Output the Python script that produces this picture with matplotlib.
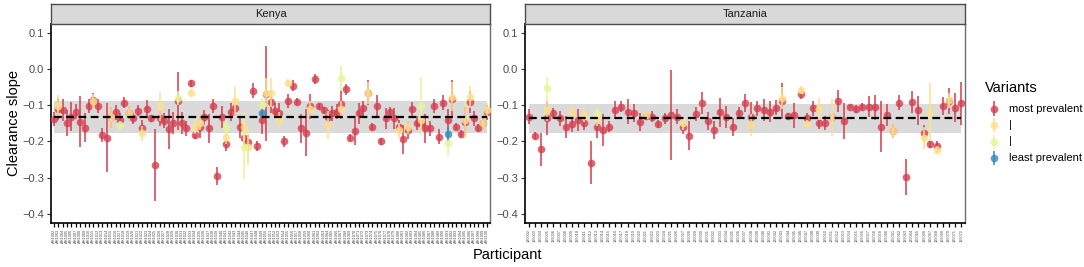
import matplotlib
matplotlib.use("Agg")
import matplotlib.pyplot as plt
import numpy as np

plt.rcParams['font.family'] = ['Liberation Sans', 'DejaVu Sans']

# ---------------- data ----------------
kenya_main = [-0.138, -0.110, -0.114, -0.149, -0.132, -0.118, -0.146, -0.162, -0.103, -0.086,
              -0.103, -0.183, -0.190, -0.134, -0.120, -0.141, -0.093, -0.123, -0.137, -0.116,
              -0.162, -0.112, -0.137, -0.265, -0.137, -0.143, -0.167, -0.149, -0.088, -0.150,
              -0.164, -0.040, -0.183, -0.160, -0.134, -0.164, -0.103, -0.295, -0.132, -0.207,
              -0.120, -0.109, -0.160, -0.192, -0.203, -0.060, -0.213, -0.141, -0.068, -0.091,
              -0.115, -0.123, -0.200, -0.088, -0.047, -0.091, -0.164, -0.176, -0.103, -0.028,
              -0.103, -0.114, -0.134, -0.123, -0.118, -0.098, -0.056, -0.190, -0.171, -0.123,
              -0.109, -0.066, -0.160, -0.103, -0.200, -0.137, -0.120, -0.137, -0.160, -0.194,
              -0.169, -0.112, -0.150, -0.150, -0.164, -0.164, -0.103, -0.187, -0.093, -0.140,
              -0.082, -0.160, -0.180, -0.146, -0.092, -0.137, -0.162, -0.149, -0.120]
kenya_err = [0.02, 0.03, 0.03, 0.035, 0.04, 0.02, 0.07, 0.04, 0.02, 0.02,
             0.02, 0.02, 0.095, 0.03, 0.02, 0.02, 0.015, 0.02, 0.015, 0.015,
             0.02, 0.025, 0.01, 0.10, 0.02, 0.02, 0.055, 0.03, 0.08, 0.03,
             0.02, 0.01, 0.01, 0.03, 0.02, 0.04, 0.02, 0.025, 0.03, 0.02,
             0.025, 0.02, 0.03, 0.02, 0.02, 0.02, 0.015, 0.04, 0.13, 0.03,
             0.02, 0.03, 0.015, 0.02, 0.015, 0.01, 0.04, 0.065, 0.035, 0.015,
             0.01, 0.01, 0.02, 0.02, 0.02, 0.04, 0.015, 0.01, 0.04, 0.03,
             0.02, 0.035, 0.01, 0.03, 0.01, 0.03, 0.015, 0.03, 0.02, 0.04,
             0.025, 0.02, 0.02, 0.02, 0.04, 0.02, 0.02, 0.02, 0.02, 0.03,
             0.05, 0.01, 0.01, 0.04, 0.03, 0.02, 0.01, 0.02, 0.02]

# other variants: participant index (1-based), variant level (2..4), value, half-width
kenya_alt_idx = [2, 10, 14, 16, 18, 21, 25, 29, 32, 33, 34, 40, 40, 42, 44, 44, 45, 48, 48, 49,
                 50, 52, 54, 59, 63, 66, 66, 72, 79, 81, 84, 84, 90, 90, 91, 94, 95, 98, 99]
kenya_alt_lvl = [2, 2, 2, 3, 2, 2, 2, 3, 2, 2, 2, 2, 3, 2, 3, 2, 2, 4, 3, 2,
                 2, 2, 2, 2, 2, 3, 2, 2, 2, 2, 3, 2, 4, 3, 2, 2, 2, 2, 2]
kenya_alt_val = [-0.103, -0.090, -0.134, -0.155, -0.123, -0.178, -0.103, -0.081, -0.066, -0.160,
                 -0.150, -0.187, -0.160, -0.090, -0.215, -0.160, -0.215, -0.121, -0.100, -0.066,
                 -0.066, -0.140, -0.038, -0.110, -0.155, -0.026, -0.110, -0.066, -0.170, -0.160,
                 -0.103, -0.140, -0.180, -0.205, -0.077, -0.140, -0.078, -0.150, -0.114]
kenya_alt_err = [0.03, 0.02, 0.03, 0.01, 0.02, 0.02, 0.04, 0.02, 0.01, 0.02,
                 0.02, 0.02, 0.03, 0.04, 0.09, 0.04, 0.05, 0.01, 0.02, 0.04,
                 0.04, 0.02, 0.01, 0.02, 0.04, 0.035, 0.02, 0.03, 0.02, 0.02,
                 0.08, 0.02, 0.02, 0.035, 0.04, 0.05, 0.03, 0.02, 0.02]

tanz_main = [-0.132, -0.185, -0.222, -0.137, -0.123, -0.137, -0.161, -0.153, -0.141, -0.150,
             -0.259, -0.161, -0.169, -0.160, -0.114, -0.104, -0.118, -0.123, -0.146, -0.131,
             -0.132, -0.152, -0.137, -0.128, -0.132, -0.160, -0.185, -0.125, -0.095, -0.143,
             -0.169, -0.120, -0.132, -0.160, -0.121, -0.095, -0.132, -0.109, -0.114, -0.118,
             -0.107, -0.088, -0.131, -0.128, -0.068, -0.137, -0.109, -0.150, -0.149, -0.134,
             -0.088, -0.144, -0.104, -0.111, -0.104, -0.104, -0.106, -0.160, -0.128, -0.172,
             -0.093, -0.298, -0.092, -0.114, -0.176, -0.208, -0.214, -0.103, -0.089, -0.107,
             -0.095]
tanz_err = [0.02, 0.01, 0.045, 0.045, 0.015, 0.02, 0.03, 0.02, 0.03, 0.02,
            0.06, 0.03, 0.045, 0.015, 0.025, 0.015, 0.035, 0.025, 0.025, 0.01,
            0.015, 0.01, 0.015, 0.125, 0.02, 0.02, 0.04, 0.02, 0.03, 0.025,
            0.025, 0.04, 0.03, 0.025, 0.015, 0.025, 0.04, 0.02, 0.03, 0.03,
            0.02, 0.05, 0.01, 0.035, 0.015, 0.015, 0.02, 0.015, 0.02, 0.01,
            0.03, 0.05, 0.005, 0.01, 0.01, 0.03, 0.035, 0.07, 0.03, 0.02,
            0.02, 0.05, 0.03, 0.04, 0.02, 0.01, 0.015, 0.025, 0.035, 0.04,
            0.06]
tanz_alt_idx = [4, 4, 8, 10, 12, 12, 20, 26, 37, 42, 45, 46, 48, 50, 60, 65, 66, 67, 69]
tanz_alt_lvl = [3, 2, 2, 2, 3, 2, 2, 2, 2, 2, 2, 2, 2, 2, 2, 2, 2, 2, 2]
tanz_alt_val = [-0.053, -0.113, -0.119, -0.128, -0.122, -0.137, -0.128, -0.150, -0.155, -0.081,
                -0.057, -0.152, -0.110, -0.134, -0.172, -0.190, -0.120, -0.223, -0.087]
tanz_alt_err = [0.03, 0.03, 0.02, 0.02, 0.015, 0.02, 0.01, 0.02, 0.03, 0.03,
                0.01, 0.01, 0.03, 0.05, 0.02, 0.03, 0.08, 0.01, 0.02]

kenya_band = (-0.178, -0.089)
kenya_mean = -0.133
tanz_band = (-0.176, -0.097)
tanz_mean = -0.135

kenya_ids = ["AH1%03d" % (i + 2) for i in range(len(kenya_main))]
tanz_ids = ["185%03d" % (i + 2) for i in range(len(tanz_main))]

variant_labels = ["most prevalent", "|", "|", "least prevalent"]
variant_colors = ["#D53E4F", "#FEE08B", "#E6F598", "#3288BD"]

# ---------------- figure ----------------
W, H = 1084, 267
fig = plt.figure(figsize=(W / 100, H / 100), dpi=100)

def fx(px):
    return px / W

def fy(py):
    return 1 - py / H

panels = [
    ("Kenya", 51, 490, kenya_main, kenya_err, kenya_alt_idx, kenya_alt_lvl, kenya_alt_val,
     kenya_alt_err, kenya_band, kenya_mean, kenya_ids),
    ("Tanzania", 525, 965, tanz_main, tanz_err, tanz_alt_idx, tanz_alt_lvl, tanz_alt_val,
     tanz_alt_err, tanz_band, tanz_mean, tanz_ids),
]

top_px, bot_px, strip_top = 24, 222.5, 3.5
ALPHA = 0.8
MS = 5.5
for (name, x0, x1, main, err, aidx, alvl, aval, aerr, band, mean, ids) in panels:
    ax = fig.add_axes([fx(x0), fy(bot_px), fx(x1 - x0), (bot_px - top_px) / H])
    n = len(main)
    x = np.arange(1, n + 1)
    ax.fill_between([1, n], band[0], band[1], color="#DADADA", lw=0, zorder=1)
    ax.plot([1, n], [mean, mean], ls=(0, (3.5, 2)), color="black", lw=1.6, zorder=5)
    ax.errorbar(x, main, yerr=err, fmt="o", color=variant_colors[0], ms=MS,
                elinewidth=1.4, alpha=ALPHA, mew=0, capsize=0, zorder=3)
    aidx = np.array(aidx); alvl = np.array(alvl)
    aval = np.array(aval); aerr = np.array(aerr)
    for lv in (2, 3, 4):
        m = alvl == lv
        if m.any():
            ax.errorbar(aidx[m], aval[m], yerr=aerr[m], fmt="o", color=variant_colors[lv - 1],
                        ms=MS, elinewidth=1.4, alpha=ALPHA, mew=0, capsize=0, zorder=4)
    ax.set_xlim(1 - 0.6, n + 0.6)
    ax.set_ylim(-0.4 - (bot_px - 213.7) / 362, 0.1 + (32.7 - top_px) / 362)
    ax.set_yticks([0.1, 0.0, -0.1, -0.2, -0.3, -0.4])
    ax.set_yticklabels(["0.1", "0.0", "\u22120.1", "\u22120.2", "\u22120.3", "\u22120.4"])
    ax.set_xticks(x)
    ax.set_xticklabels(ids, rotation=90, fontsize=2.8, color="#4D4D4D")
    ax.tick_params(axis="y", labelsize=8, colors="#333333", length=3, width=0.8,
                   labelcolor="#4D4D4D", pad=2)
    ax.tick_params(axis="x", length=3, width=0.9, colors="black", labelcolor="#4D4D4D", pad=1.5)
    for s in ("left", "bottom"):
        ax.spines[s].set_color("black")
        ax.spines[s].set_linewidth(1.2)
    ax.spines["right"].set_color("#6E6E6E")
    ax.spines["right"].set_linewidth(1.0)
    ax.spines["top"].set_color("#333333")
    ax.spines["top"].set_linewidth(1.2)
    # strip
    sax = fig.add_axes([fx(x0), fy(top_px), fx(x1 - x0), (top_px - strip_top) / H])
    sax.set_facecolor("#D9D9D9")
    sax.set_xticks([]); sax.set_yticks([])
    for s in sax.spines.values():
        s.set_color("#4D4D4D")
        s.set_linewidth(1.0)
    sax.text(0.5, 0.5, name, ha="center", va="center", fontsize=8, color="#1A1A1A",
             transform=sax.transAxes)

fig.text(fx(14), fy(123), "Clearance slope", rotation=90, ha="center", va="center",
         fontsize=10.5, color="black")
fig.text(fx(508), fy(255), "Participant", ha="center", va="center", fontsize=10.5,
         color="black")

# legend
fig.text(fx(985), fy(88), "Variants", ha="left", va="center", fontsize=10.5, color="black")
leg_y = [108.5, 125, 141.5, 158]
for lab, col, yy in zip(variant_labels, variant_colors, leg_y):
    fig.lines.append(plt.Line2D([fx(993.5), fx(993.5)], [fy(yy - 6), fy(yy + 6)],
                                transform=fig.transFigure, color=col, lw=1.4, alpha=ALPHA))
    fig.lines.append(plt.Line2D([fx(993.5)], [fy(yy)], transform=fig.transFigure,
                                marker="o", ms=MS, color=col, mew=0, alpha=ALPHA, ls="none"))
    fig.text(fx(1009), fy(yy), lab, ha="left", va="center", fontsize=8, color="black")

fig.savefig("out.png", dpi=100, facecolor="white")
